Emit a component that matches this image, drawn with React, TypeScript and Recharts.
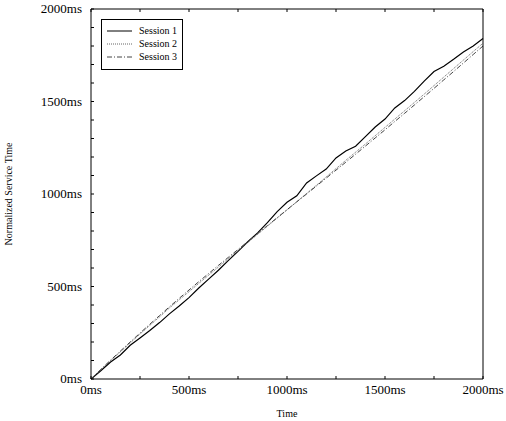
import React from 'react';
import { LineChart, Line, XAxis, YAxis, Label } from 'recharts';

const times = [
  0, 50, 100, 150, 200, 250, 300, 350, 400, 450, 500, 550, 600, 650, 700, 750, 800, 850, 900, 950,
  1000, 1050, 1100, 1150, 1200, 1250, 1300, 1350, 1400, 1450, 1500, 1550, 1600, 1650, 1700, 1750,
  1800, 1850, 1900, 1950, 2000,
];

const session1 = [
  0, 45, 92, 130, 182, 222, 262, 305, 352, 395, 440, 492, 540, 588, 640, 690, 742, 790, 845, 905,
  955, 990, 1060, 1098, 1135, 1195, 1232, 1258, 1310, 1362, 1405, 1465, 1505, 1555, 1610, 1662,
  1690, 1728, 1768, 1800, 1840,
];

const session2 = [
  0, 50, 99, 147, 195, 243, 290, 336, 384, 428, 472, 517, 561, 605, 650, 694, 738, 782, 826, 870,
  914, 958, 1003, 1047, 1092, 1137, 1182, 1226, 1270, 1315, 1360, 1405, 1450, 1495, 1540, 1586,
  1632, 1678, 1724, 1770, 1815,
];

const session3 = [
  0, 52, 102, 151, 200, 248, 296, 343, 390, 436, 481, 526, 570, 614, 657, 700, 743, 786, 829, 872,
  915, 958, 1000, 1043, 1086, 1129, 1172, 1215, 1259, 1303, 1347, 1392, 1436, 1481, 1526, 1571,
  1617, 1662, 1708, 1754, 1800,
];

const seriesNames = ['Session 1', 'Session 2', 'Session 3'];

const xTicks = [0, 250, 500, 750, 1000, 1250, 1500, 1750, 2000];
const yTicks = [
  0, 100, 200, 300, 400, 500, 600, 700, 800, 900, 1000, 1100, 1200, 1300, 1400, 1500, 1600, 1700,
  1800, 1900, 2000,
];

const data = times.map((t, i) => ({ t, s1: session1[i], s2: session2[i], s3: session3[i] }));

const FONT = '"Liberation Serif", "DejaVu Serif", serif';
const label = (v: number) => (v % 500 === 0 ? `${v}ms` : '');

const styles = [
  { color: '#000', dash: undefined as string | undefined, width: 1.2 },
  { color: '#666', dash: '1 1', width: 1 },
  { color: '#444', dash: '5 2 1 2', width: 1 },
];

// bottom axis: text below, short tick pointing up into the plot
const BottomTick = (props: any) => {
  const { x, y, payload } = props;
  const axisY = y - 6;
  return (
    <g>
      <line x1={x} x2={x} y1={axisY} y2={axisY - 3} stroke="#000" />
      <text x={x} y={y + 9} textAnchor="middle" fontFamily={FONT} fontSize={13} fill="#000">
        {label(payload.value)}
      </text>
    </g>
  );
};

const LeftTick = (props: any) => {
  const { x, y, payload } = props;
  const axisX = x + 9;
  return (
    <g>
      <line x1={axisX} x2={axisX + 3} y1={y} y2={y} stroke="#000" />
      <text x={x} y={y + 4} textAnchor="end" fontFamily={FONT} fontSize={13} fill="#000">
        {label(payload.value)}
      </text>
    </g>
  );
};

const TopTick = (props: any) => {
  const { x, y } = props;
  return <line x1={x} x2={x} y1={y} y2={y + 3} stroke="#000" />;
};

const RightTick = (props: any) => {
  const { x, y } = props;
  return <line x1={x} x2={x - 3} y1={y} y2={y} stroke="#000" />;
};

export default function App() {
  return (
    <div style={{ position: 'absolute', left: 0, top: 0, width: 506, height: 421, background: '#fff' }}>
      <LineChart width={506} height={421} data={data} margin={{ top: 8, right: 22, bottom: 0, left: 0 }}>
        <XAxis
          dataKey="t"
          type="number"
          domain={[0, 2000]}
          ticks={xTicks}
          height={42}
          tickSize={0}
          tickMargin={6}
          tickLine={false}
          tick={<BottomTick />}
          stroke="#000"
          interval={0}
        >
          <Label value="Time" position="insideBottom" offset={4} fontFamily={FONT} fontSize={10} fill="#000" />
        </XAxis>
        <XAxis
          xAxisId="top"
          orientation="top"
          dataKey="t"
          type="number"
          domain={[0, 2000]}
          ticks={xTicks}
          height={1}
          tickSize={0}
          tickMargin={0}
          tickLine={false}
          tick={<TopTick />}
          stroke="#000"
          interval={0}
        />
        <YAxis
          type="number"
          domain={[0, 2000]}
          ticks={yTicks}
          width={91}
          tickSize={0}
          tickMargin={9}
          tickLine={false}
          tick={<LeftTick />}
          stroke="#000"
          interval={0}
        >
          <Label
            value="Normalized Service Time"
            angle={-90}
            position="insideLeft"
            offset={8}
            style={{ textAnchor: 'middle' }}
            fontFamily={FONT}
            fontSize={10}
            fill="#000"
          />
        </YAxis>
        <YAxis
          yAxisId="right"
          orientation="right"
          type="number"
          domain={[0, 2000]}
          ticks={yTicks}
          width={1}
          tickSize={0}
          tickMargin={0}
          tickLine={false}
          tick={<RightTick />}
          stroke="#000"
          interval={0}
        />
        {['s1', 's2', 's3'].map((key, i) => (
          <Line
            key={key}
            dataKey={key}
            name={seriesNames[i]}
            stroke={styles[i].color}
            strokeWidth={styles[i].width}
            strokeDasharray={styles[i].dash}
            dot={false}
            type="linear"
            isAnimationActive={false}
          />
        ))}
      </LineChart>
      <div
        style={{
          position: 'absolute',
          left: 101,
          top: 19,
          width: 82,
          height: 51,
          border: '1px solid #000',
          padding: '4px 4px 0 5px',
          background: '#fff',
          fontFamily: FONT,
          fontSize: 10,
          lineHeight: '13px',
          boxSizing: 'border-box',
          whiteSpace: 'nowrap',
        }}
      >
        {seriesNames.map((name, i) => (
          <div key={name} style={{ display: 'flex', alignItems: 'center', color: '#000' }}>
            <svg width={26} height={8} style={{ marginRight: 6 }}>
              <line
                x1={0}
                x2={25}
                y1={4}
                y2={4}
                stroke={styles[i].color}
                strokeDasharray={styles[i].dash}
                strokeWidth={1}
              />
            </svg>
            <span>{name}</span>
          </div>
        ))}
      </div>
    </div>
  );
}
